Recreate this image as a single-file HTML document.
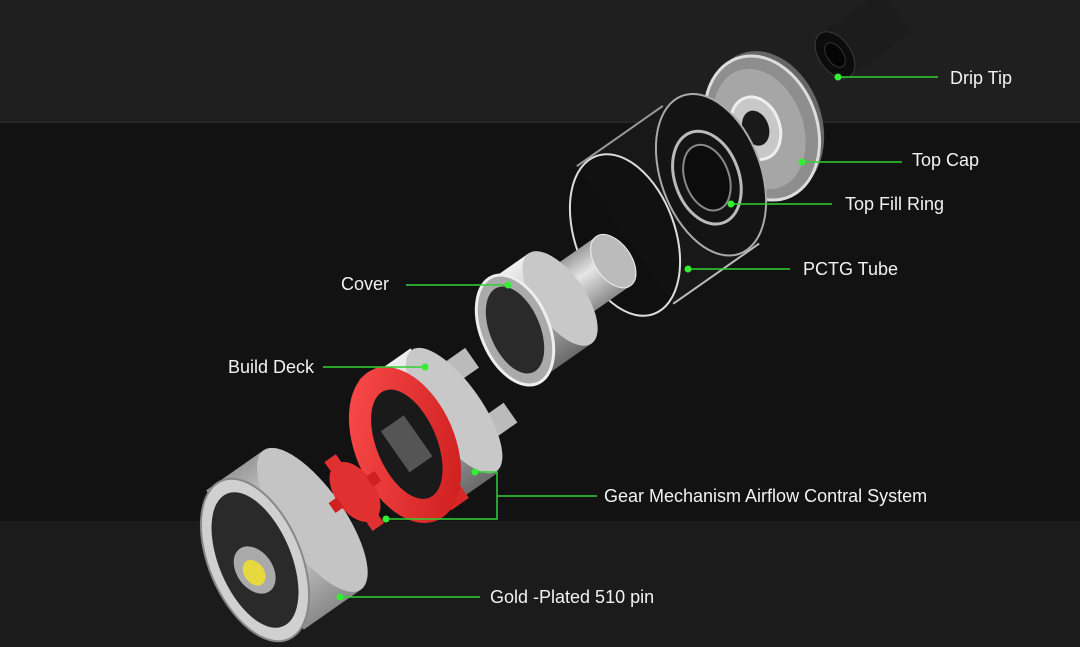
<!DOCTYPE html>
<html><head><meta charset="utf-8"><style>
html,body{margin:0;padding:0;background:#121212;}
svg{display:block}
text{font-family:"Liberation Sans",sans-serif;font-size:18px;fill:#f2f2f2;}
</style></head><body>
<svg width="1080" height="647" viewBox="0 0 1080 647" xmlns="http://www.w3.org/2000/svg">
<defs>
<linearGradient id="silver" x1="0" y1="0" x2="0" y2="1">
<stop offset="0" stop-color="#f0f0f0"/><stop offset="0.5" stop-color="#b8b8b8"/><stop offset="1" stop-color="#6a6a6a"/></linearGradient>
<linearGradient id="silver2" x1="0" y1="0" x2="0" y2="1">
<stop offset="0" stop-color="#9a9a9a"/><stop offset="0.4" stop-color="#e6e6e6"/><stop offset="1" stop-color="#8a8a8a"/></linearGradient>
<linearGradient id="red" x1="0" y1="0" x2="1" y2="1">
<stop offset="0" stop-color="#ff5050"/><stop offset="1" stop-color="#c81818"/></linearGradient>
</defs>
<rect x="0" y="0" width="1080" height="122" fill="#1f1f1f"/>
<rect x="0" y="121" width="1080" height="2" fill="#262626"/>
<rect x="0" y="123" width="1080" height="398" fill="#121212"/>
<rect x="0" y="521" width="1080" height="126" fill="#1b1b1b"/>

<!-- Drip tip -->
<g transform="translate(835,55) rotate(-35)">
<rect x="0" y="-26" width="75" height="52" fill="#1c1c1c"/>
<ellipse cx="0" cy="0" rx="16" ry="26" fill="#0c0c0c" stroke="#3a3a3a"/>
<ellipse cx="0" cy="0" rx="8" ry="14" fill="#050505" stroke="#333"/>
</g>
<!-- Top cap -->
<g transform="translate(762,128) rotate(-20)">
<ellipse cx="6" cy="-3" rx="55" ry="74" fill="#666"/>
<ellipse cx="0" cy="0" rx="55" ry="74" fill="#8e8e8e" stroke="#ddd" stroke-width="3"/>
<ellipse cx="-3" cy="0" rx="44" ry="62" fill="#a6a6a6"/>
<ellipse cx="-6" cy="-2" rx="24" ry="32" fill="#c8c8c8" stroke="#eee" stroke-width="3"/>
<ellipse cx="-6" cy="-2" rx="13" ry="18" fill="#1a1a1a"/>
</g>
<!-- PCTG tube -->
<g transform="translate(625,235) rotate(-35)">
<rect x="0" y="-84" width="105" height="168" fill="#181818"/>
<ellipse cx="105" cy="0" rx="50" ry="84" fill="#141414" stroke="#aaa" stroke-width="2" transform="rotate(15 105 0)"/>
<ellipse cx="0" cy="0" rx="50" ry="84" fill="#0e0e0e" stroke="#ddd" stroke-width="2" transform="rotate(15 0 0)" fill-opacity="0.6"/>
<ellipse cx="100" cy="0" rx="32" ry="48" fill="none" stroke="#bbb" stroke-width="3" transform="rotate(15 100 0)"/>
<ellipse cx="100" cy="0" rx="22" ry="34" fill="#0c0c0c" stroke="#888" stroke-width="2" transform="rotate(15 100 0)"/>
<line x1="0" y1="-84" x2="105" y2="-84" stroke="#999" stroke-width="2"/>
<line x1="0" y1="84" x2="105" y2="84" stroke="#bbb" stroke-width="2"/>
</g>
<!-- Cover -->
<g transform="translate(515,330) rotate(-35)">
<rect x="50" y="-30" width="70" height="60" fill="url(#silver2)"/>
<ellipse cx="120" cy="0" rx="18" ry="30" fill="#bbb" stroke="#eee"/>
<rect x="0" y="-55" width="55" height="110" fill="url(#silver)"/>
<ellipse cx="55" cy="0" rx="25" ry="55" fill="#c8c8c8"/>
<ellipse cx="0" cy="0" rx="34" ry="58" fill="#aaa" stroke="#eee" stroke-width="3" transform="rotate(12)"/>
<ellipse cx="0" cy="0" rx="25" ry="46" fill="#2a2a2a" transform="rotate(12)"/>
</g>
<!-- Build deck -->
<g transform="translate(405,445) rotate(-35)">
<rect x="55" y="-45" width="50" height="24" fill="#bbb"/>
<rect x="55" y="22" width="50" height="24" fill="#bbb"/>
<rect x="20" y="-76" width="40" height="152" fill="url(#silver)"/>
<ellipse cx="60" cy="0" rx="28" ry="74" fill="#c8c8c8"/>
<rect x="0" y="-80" width="22" height="160" fill="#d82828"/>
<ellipse cx="0" cy="0" rx="50" ry="82" fill="url(#red)" transform="rotate(12)"/>
<ellipse cx="2" cy="0" rx="30" ry="58" fill="#1a1a1a" transform="rotate(12)"/>
<rect x="-12" y="-25" width="28" height="50" fill="#555"/>
</g>
<!-- Base -->
<g transform="translate(255,560) rotate(-35)">
<rect x="60" y="-10" width="45" height="20" fill="#ccc"/>
<rect x="0" y="-85" width="70" height="170" fill="url(#silver2)"/>
<ellipse cx="70" cy="0" rx="32" ry="85" fill="#c4c4c4"/>
<ellipse cx="0" cy="0" rx="46" ry="86" fill="#d0d0d0" stroke="#888" stroke-width="2" transform="rotate(12)"/>
<ellipse cx="0" cy="0" rx="36" ry="72" fill="#2a2a2a" transform="rotate(12)"/>
<ellipse cx="-6" cy="8" rx="18" ry="26" fill="#aaa"/>
<ellipse cx="-8" cy="10" rx="10" ry="14" fill="#e8d840"/>
</g>
<!-- Gear -->
<g transform="translate(355,492) rotate(-35)">
<ellipse cx="0" cy="0" rx="20" ry="34" fill="#e03030"/>
<rect x="-8" y="-42" width="14" height="10" fill="#e03030"/>
<rect x="-8" y="32" width="14" height="10" fill="#e03030"/>
<rect x="-28" y="-6" width="10" height="12" fill="#d02020"/>
<rect x="18" y="-6" width="10" height="12" fill="#d02020"/>
</g>

<!-- Leaders -->
<g stroke="#2fd12f" stroke-width="1.5" fill="none">
<line x1="838" y1="77" x2="938" y2="77"/>
<line x1="802" y1="162" x2="902" y2="162"/>
<line x1="731" y1="204" x2="832" y2="204"/>
<line x1="688" y1="269" x2="790" y2="269"/>
<line x1="406" y1="285" x2="508" y2="285"/>
<line x1="323" y1="367" x2="425" y2="367"/>
<polyline points="475,472 497,472 497,519 383,519"/>
<line x1="497" y1="496" x2="597" y2="496"/>
<line x1="340" y1="597" x2="480" y2="597"/>
</g>
<g fill="#33ee33">
<circle cx="838" cy="77" r="3.5"/><circle cx="802" cy="162" r="3.5"/>
<circle cx="731" cy="204" r="3.5"/><circle cx="688" cy="269" r="3.5"/>
<circle cx="508" cy="285" r="3.5"/><circle cx="425" cy="367" r="3.5"/>
<circle cx="475" cy="472" r="3.5"/><circle cx="386" cy="519" r="3.5"/>
<circle cx="340" cy="597" r="3.5"/>
</g>
<text x="950" y="84">Drip Tip</text>
<text x="912" y="166">Top Cap</text>
<text x="845" y="210">Top Fill Ring</text>
<text x="803" y="275">PCTG Tube</text>
<text x="341" y="290">Cover</text>
<text x="228" y="373">Build Deck</text>
<text x="604" y="502">Gear Mechanism Airflow Contral System</text>
<text x="490" y="603">Gold -Plated 510 pin</text>
</svg>
</body></html>
